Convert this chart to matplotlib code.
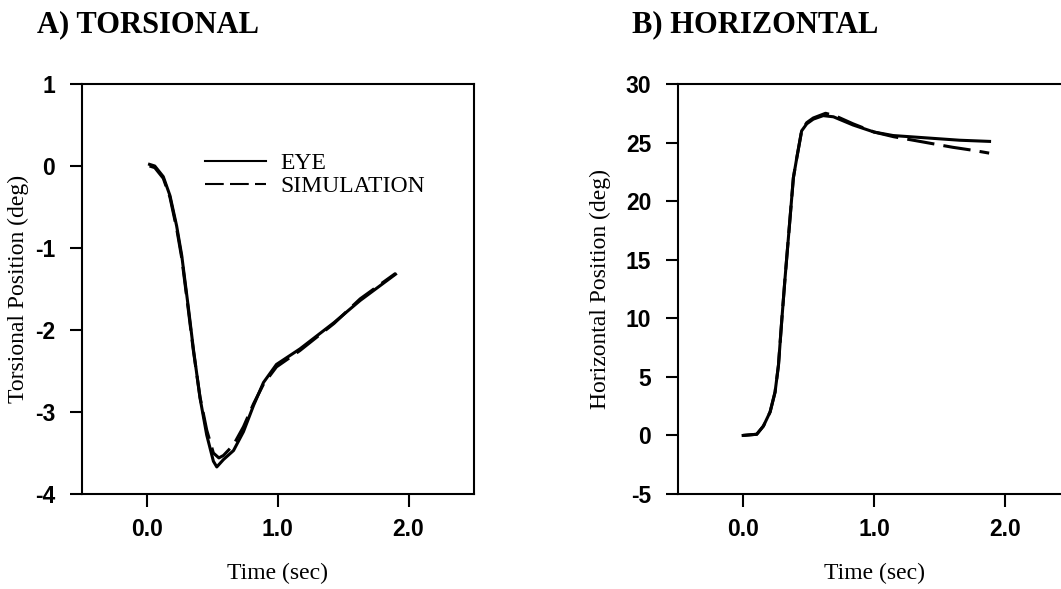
import matplotlib
matplotlib.use("Agg")
import matplotlib.pyplot as plt

# torsional panel (deg vs sec)
tors_t_eye = [0.02, 0.06, 0.125, 0.176, 0.227, 0.266, 0.317, 0.355, 0.406, 0.457, 0.508, 0.534,
              0.585, 0.662, 0.738, 0.815, 0.891, 0.99, 1.17, 1.43, 1.63, 1.90]
tors_eye = [0.02, 0.0, -0.13, -0.36, -0.73, -1.09, -1.73, -2.23, -2.83, -3.28, -3.60, -3.67,
            -3.58, -3.47, -3.24, -2.92, -2.64, -2.42, -2.23, -1.91, -1.64, -1.32]
tors_t_sim = [0.02, 0.06, 0.125, 0.176, 0.227, 0.266, 0.317, 0.355, 0.406, 0.457, 0.508, 0.55,
              0.585, 0.662, 0.738, 0.815, 0.891, 0.99, 1.17, 1.43, 1.63, 1.90]
tors_sim = [0.0, -0.02, -0.15, -0.38, -0.76, -1.12, -1.76, -2.25, -2.82, -3.22, -3.50, -3.56,
            -3.53, -3.40, -3.18, -2.90, -2.66, -2.45, -2.25, -1.92, -1.62, -1.31]

# horizontal panel
hor_t_eye = [0.0, 0.104, 0.155, 0.206, 0.244, 0.27, 0.295, 0.32, 0.358, 0.384, 0.41, 0.447,
             0.486, 0.536, 0.612, 0.69, 0.84, 1.0, 1.146, 1.40, 1.654, 1.883]
hor_eye = [0.0, 0.1, 0.8, 2.0, 3.7, 6.0, 9.8, 13.4, 18.5, 22.0, 23.7, 26.0,
           26.6, 27.0, 27.3, 27.2, 26.5, 25.9, 25.6, 25.4, 25.2, 25.1]
hor_t_sim = [0.0, 0.104, 0.155, 0.206, 0.244, 0.27, 0.295, 0.32, 0.358, 0.384, 0.41, 0.447,
             0.486, 0.536, 0.63, 0.70, 0.84, 1.0, 1.15, 1.30, 1.45, 1.60, 1.75, 1.88]
hor_sim = [0.0, 0.1, 0.8, 2.0, 3.7, 6.0, 9.8, 13.4, 18.5, 22.0, 23.7, 26.0,
           26.7, 27.1, 27.5, 27.3, 26.6, 25.9, 25.5, 25.2, 24.9, 24.6, 24.35, 24.1]

tors_ticks = [1, 0, -1, -2, -3, -4]
hor_ticks = [30, 25, 20, 15, 10, 5, 0, -5]
x_ticks = [0.0, 1.0, 2.0]

W, H = 1061, 589
fig = plt.figure(figsize=(W / 100, H / 100), dpi=100)

serif = "Liberation Serif"
sans = "Liberation Sans"


def setup(ax, yticks):
    for s in ax.spines.values():
        s.set_linewidth(1.5)
    ax.set_xlim(-0.5, 2.5)
    ax.set_ylim(min(yticks), max(yticks))
    ax.set_xticks(x_ticks)
    ax.set_xticklabels(["%.1f" % v for v in x_ticks])
    ax.set_yticks(yticks)
    ax.set_yticklabels([str(v) for v in yticks])
    ax.tick_params(axis="both", direction="out", length=9, width=1.5,
                   labelsize=16.5)
    ax.tick_params(axis="y", pad=10)
    ax.tick_params(axis="x", pad=8)
    for lab in ax.get_xticklabels() + ax.get_yticklabels():
        lab.set_fontfamily(sans)
        lab.set_fontweight("bold")


# A) torsional
ax1 = fig.add_axes([81.5 / W, (H - 494) / H, 392.5 / W, 410 / H])
setup(ax1, tors_ticks)
ax1.plot(tors_t_eye, tors_eye, color="black", lw=2.2, label="EYE")
ax1.plot(tors_t_sim, tors_sim, color="black", lw=2.2, dashes=(9, 3), label="SIMULATION")
ax1.set_xlabel("Time (sec)", fontsize=17, fontfamily=serif, va="center")
ax1.xaxis.set_label_coords(0.5, -0.195)
ax1.set_ylabel("Torsional Position (deg)", fontsize=17, fontfamily=serif, va="center")
ax1.yaxis.set_label_coords(-0.162, 0.5)
leg = ax1.legend(loc="upper left", bbox_to_anchor=(0.3146, 0.832), frameon=False,
                 prop={"family": serif, "size": 17}, handlelength=2.6,
                 handletextpad=0.6, labelspacing=0.05, borderpad=0, borderaxespad=0)
for ln in leg.get_lines():
    ln.set_linewidth(1.5)

# B) horizontal (right spine falls just past the image edge)
ax2 = fig.add_axes([677.7 / W, (H - 494) / H, 392.6 / W, 410 / H])
setup(ax2, hor_ticks)
ax2.plot(hor_t_eye, hor_eye, color="black", lw=2.2)
ax2.plot(hor_t_sim, hor_sim, color="black", lw=2.2, dashes=(9, 3))
ax2.set_xlabel("Time (sec)", fontsize=17, fontfamily=serif, va="center")
ax2.xaxis.set_label_coords(0.5, -0.195)
ax2.set_ylabel("Horizontal Position (deg)", fontsize=17, fontfamily=serif, va="center")
ax2.yaxis.set_label_coords(-0.196, 0.5)

fig.text(37 / W, 1 - 25 / H, "A) TORSIONAL", fontsize=22, fontweight="bold",
         fontfamily=serif, va="center", ha="left")
fig.text(632 / W, 1 - 25 / H, "B) HORIZONTAL", fontsize=22, fontweight="bold",
         fontfamily=serif, va="center", ha="left")

fig.savefig("out.png", dpi=100)
